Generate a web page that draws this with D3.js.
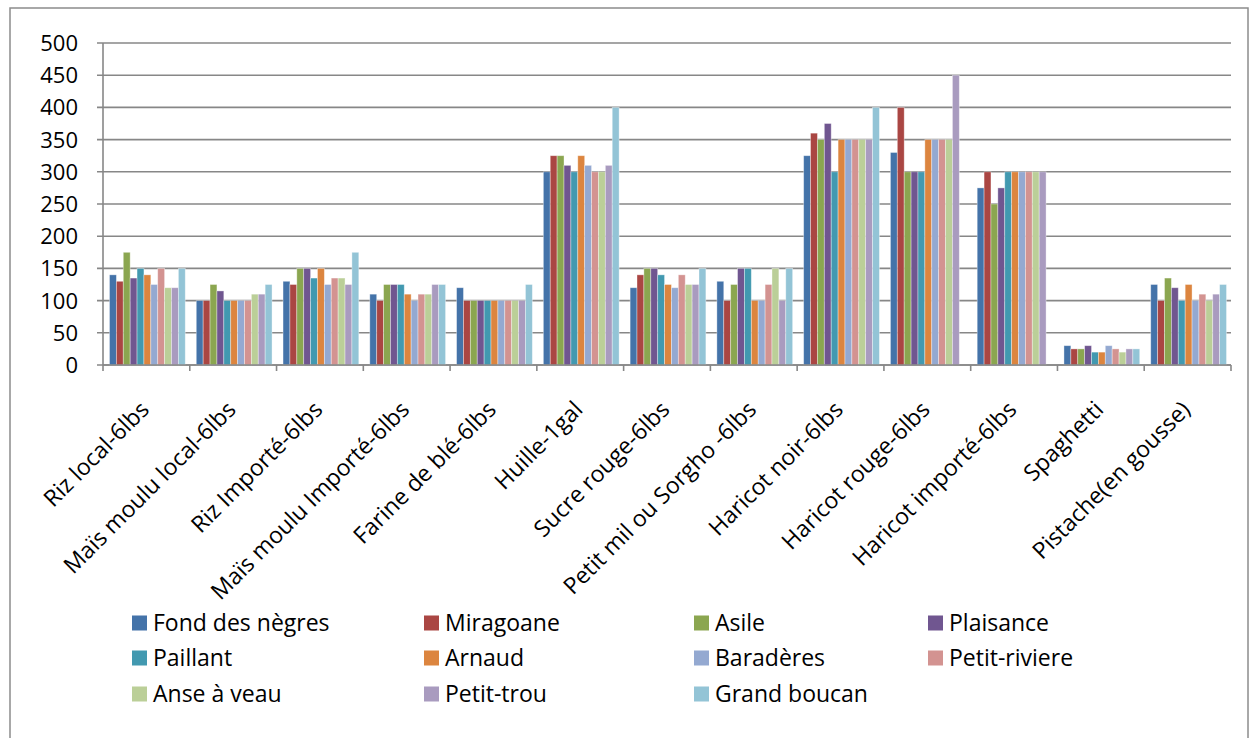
<!DOCTYPE html>
<html>
<head>
<meta charset="utf-8">
<script src="https://cdn.jsdelivr.net/npm/d3@7"></script>
<style>
  body { margin: 0; background: #fff; }
  svg text { font-family: "Open Sans", sans-serif; fill: #000; }
</style>
</head>
<body>
<svg id="chart"></svg>
<script>
// Categories (products) on the x axis
const categories = [
    "Riz local-6lbs", "Maïs moulu local-6lbs", "Riz Importé-6lbs", "Maïs moulu Importé-6lbs",
    "Farine de blé-6lbs", "Huille-1gal", "Sucre rouge-6lbs", "Petit mil ou Sorgho -6lbs",
    "Haricot noir-6lbs", "Haricot rouge-6lbs", "Haricot importé-6lbs", "Spaghetti", "Pistache(en gousse)"
];

// Series (markets)
const seriesNames = [
    "Fond des nègres", "Miragoane", "Asile", "Plaisance", "Paillant", "Arnaud",
    "Baradères", "Petit-riviere", "Anse à veau", "Petit-trou", "Grand boucan"
];

// Values, one array per market
const fondDesNegres = [140, 100, 130, 110, 120, 300, 120, 130, 325, 330, 275, 30, 125];
const miragoane     = [130, 100, 125, 100, 100, 325, 140, 100, 360, 400, 300, 25, 100];
const asile         = [175, 125, 150, 125, 100, 325, 150, 125, 350, 300, 250, 25, 135];
const plaisance     = [135, 115, 150, 125, 100, 310, 150, 150, 375, 300, 275, 30, 120];
const paillant      = [150, 100, 135, 125, 100, 300, 140, 150, 300, 300, 300, 20, 100];
const arnaud        = [140, 100, 150, 110, 100, 325, 125, 100, 350, 350, 300, 20, 125];
const baraderes     = [125, 100, 125, 100, 100, 310, 120, 100, 350, 350, 300, 30, 100];
const petitRiviere  = [150, 100, 135, 110, 100, 300, 140, 125, 350, 350, 300, 25, 110];
const anseAVeau     = [120, 110, 135, 110, 100, 300, 125, 150, 350, 350, 300, 20, 100];
const petitTrou     = [120, 110, 125, 125, 100, 310, 125, 100, 350, 450, 300, 25, 110];
const grandBoucan   = [150, 125, 175, 125, 125, 400, 150, 150, 400, 0, 0, 25, 125];

const seriesValues = [fondDesNegres, miragoane, asile, plaisance, paillant, arnaud,
    baraderes, petitRiviere, anseAVeau, petitTrou, grandBoucan];

// Y axis ticks
const yTicks = [0, 50, 100, 150, 200, 250, 300, 350, 400, 450, 500];

const colors = ["#4473a9", "#aa4643", "#8ba650", "#705690", "#4299b0", "#dc853f",
    "#94a9d1", "#d39391", "#bbcf98", "#a99bbf", "#93c4d6"];

const width = 1252, height = 738;
const plot = { left: 103, right: 1231, top: 43, bottom: 365 };

const svg = d3.select("#chart")
    .attr("width", width)
    .attr("height", height);

// outer frame
svg.append("rect")
    .attr("x", 10).attr("y", 8)
    .attr("width", 1238).attr("height", 740)
    .attr("fill", "none")
    .attr("stroke", "#8c8c8c")
    .attr("stroke-width", 1.5);

const x0 = d3.scaleBand()
    .domain(categories)
    .range([plot.left, plot.right])
    .paddingInner(0)
    .paddingOuter(0);

const gap = 11;
const x1 = d3.scaleBand()
    .domain(d3.range(seriesNames.length))
    .range([gap / 2 + 1, x0.bandwidth() - gap / 2 + 1])
    .padding(0);

const y = d3.scaleLinear()
    .domain([0, 500])
    .range([plot.bottom, plot.top]);

// gridlines
svg.append("g")
    .selectAll("line")
    .data(yTicks)
    .join("line")
    .attr("x1", plot.left - 6)
    .attr("x2", plot.right)
    .attr("y1", d => y(d))
    .attr("y2", d => y(d))
    .attr("stroke", "#878787")
    .attr("stroke-width", 1.6);

// y tick labels
svg.append("g")
    .selectAll("text")
    .data(yTicks)
    .join("text")
    .attr("x", 78)
    .attr("y", d => y(d))
    .attr("dy", "0.36em")
    .attr("text-anchor", "end")
    .style("font-size", "22px")
    .text(d => d);

// bars
const groups = svg.append("g")
    .selectAll("g")
    .data(categories)
    .join("g")
    .attr("transform", d => `translate(${x0(d)},0)`);

groups.selectAll("rect")
    .data((c, ci) => seriesValues.map((vals, si) => ({ si, v: vals[ci] })))
    .join("rect")
    .filter(d => d.v > 0)
    .attr("x", d => x1(d.si))
    .attr("width", x1.bandwidth())
    .attr("y", d => y(d.v))
    .attr("height", d => y(0) - y(d.v))
    .attr("fill", d => colors[d.si])
    .attr("stroke", "rgba(255,255,255,0.45)")
    .attr("stroke-width", 0.8);

// axes lines
svg.append("line")
    .attr("x1", plot.left).attr("x2", plot.left)
    .attr("y1", plot.top).attr("y2", plot.bottom)
    .attr("stroke", "#878787").attr("stroke-width", 1.6);

svg.append("line")
    .attr("x1", plot.left).attr("x2", plot.right)
    .attr("y1", plot.bottom).attr("y2", plot.bottom)
    .attr("stroke", "#878787").attr("stroke-width", 1.6);

// x tick marks at category boundaries
const boundaries = categories.map(c => x0(c)).concat([plot.right]);
svg.append("g")
    .selectAll("line")
    .data(boundaries)
    .join("line")
    .attr("x1", d => d).attr("x2", d => d)
    .attr("y1", plot.bottom).attr("y2", plot.bottom + 6)
    .attr("stroke", "#878787").attr("stroke-width", 1.6);

// rotated category labels
svg.append("g")
    .selectAll("text")
    .data(categories)
    .join("text")
    .attr("transform", d => `translate(${x0(d) + x0.bandwidth() / 2 + 4},${plot.bottom + 46}) rotate(-45)`)
    .attr("text-anchor", "end")
    .style("font-size", "23px")
    .text(d => d);

// legend
const legendCols = [132, 424, 694, 928];
const legendRows = [623, 658, 694];

const legendItems = svg.append("g")
    .selectAll("g")
    .data(seriesNames)
    .join("g")
    .attr("transform", (d, i) => `translate(${legendCols[i % 4]},${legendRows[Math.floor(i / 4)]})`);

legendItems.append("rect")
    .attr("x", 0).attr("y", -7.5)
    .attr("width", 15).attr("height", 15)
    .attr("fill", (d, i) => colors[i]);

legendItems.append("text")
    .attr("x", 21)
    .attr("y", 0)
    .attr("dy", "0.36em")
    .style("font-size", "23px")
    .text(d => d);
</script>
</body>
</html>
